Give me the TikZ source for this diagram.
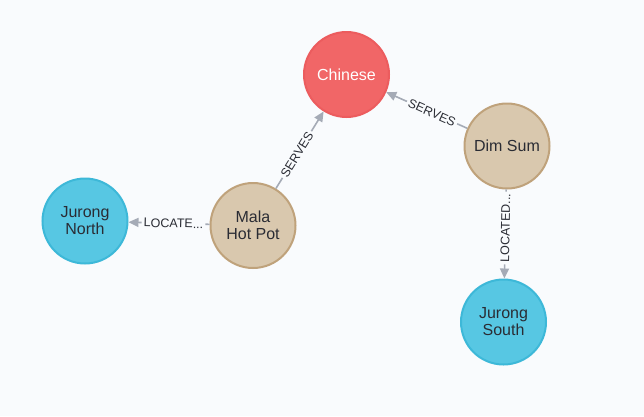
\documentclass[tikz,border=0pt]{standalone}
\usepackage{fontspec}
\setmainfont{Liberation Sans}
\usetikzlibrary{arrows.meta,calc}
\definecolor{bg}{RGB}{249,251,253}
\definecolor{redfill}{HTML}{F16667}
\definecolor{redline}{HTML}{EC5C5E}
\definecolor{tanfill}{HTML}{D9C8AE}
\definecolor{tanline}{HTML}{BFA27B}
\definecolor{bluefill}{HTML}{57C7E3}
\definecolor{blueline}{HTML}{3DB8D8}
\definecolor{edgegray}{HTML}{A5ABB6}
\definecolor{txt}{HTML}{2A2C34}
\tikzset{
  gnode/.style={circle, minimum size=85pt, inner sep=0pt, line width=2pt, align=center,
    font=\fontsize{16}{17}\selectfont, text=txt},
  redn/.style={gnode, fill=redfill, draw=redline, text=white},
  tann/.style={gnode, fill=tanfill, draw=tanline},
  bluen/.style={gnode, fill=bluefill, draw=blueline},
  elabel/.style={inner sep=2pt, font=\fontsize{12.5}{13}\selectfont, text=txt},
  edge/.style={draw=edgegray, line width=1.6pt},
  arr/.style={edge, -{Triangle[length=10pt,width=9pt]}}
}
\begin{document}
\begin{tikzpicture}[x=1pt,y=-1pt]
\fill[bg] (0,0) rectangle (644,416);
\useasboundingbox (0,0) rectangle (644,416);
\node[redn] (chinese) at (346.5,74.5) {Chinese};
\node[tann] (dimsum) at (507,146) {Dim Sum};
\node[tann] (mala) at (253,225.5) {Mala\\Hot Pot};
\node[bluen] (jnorth) at (85,221) {Jurong\\North};
\node[bluen] (jsouth) at (503.5,322) {Jurong\\South};
\node[elabel, rotate=58.2] (l1) at ($(mala)!0.47!(chinese)$) {SERVES};
\node[elabel, rotate=-24] (l2) at ($(dimsum)!0.467!(chinese)$) {SERVES};
\node[elabel, rotate=-1.5] (l3) at ($(mala)!0.473!(jnorth)$) {LOCATE...};
\node[elabel, rotate=88.9] (l4) at ($(dimsum)!0.466!(jsouth)$) {LOCATED...};
\draw[edge] (mala) -- (l1);
\draw[arr] (l1) -- (chinese);
\draw[edge] (dimsum) -- (l2);
\draw[arr] (l2) -- (chinese);
\draw[edge] (mala) -- (l3);
\draw[arr] (l3) -- (jnorth);
\draw[edge] (dimsum) -- (l4);
\draw[arr] (l4) -- (jsouth);
\end{tikzpicture}
\end{document}
